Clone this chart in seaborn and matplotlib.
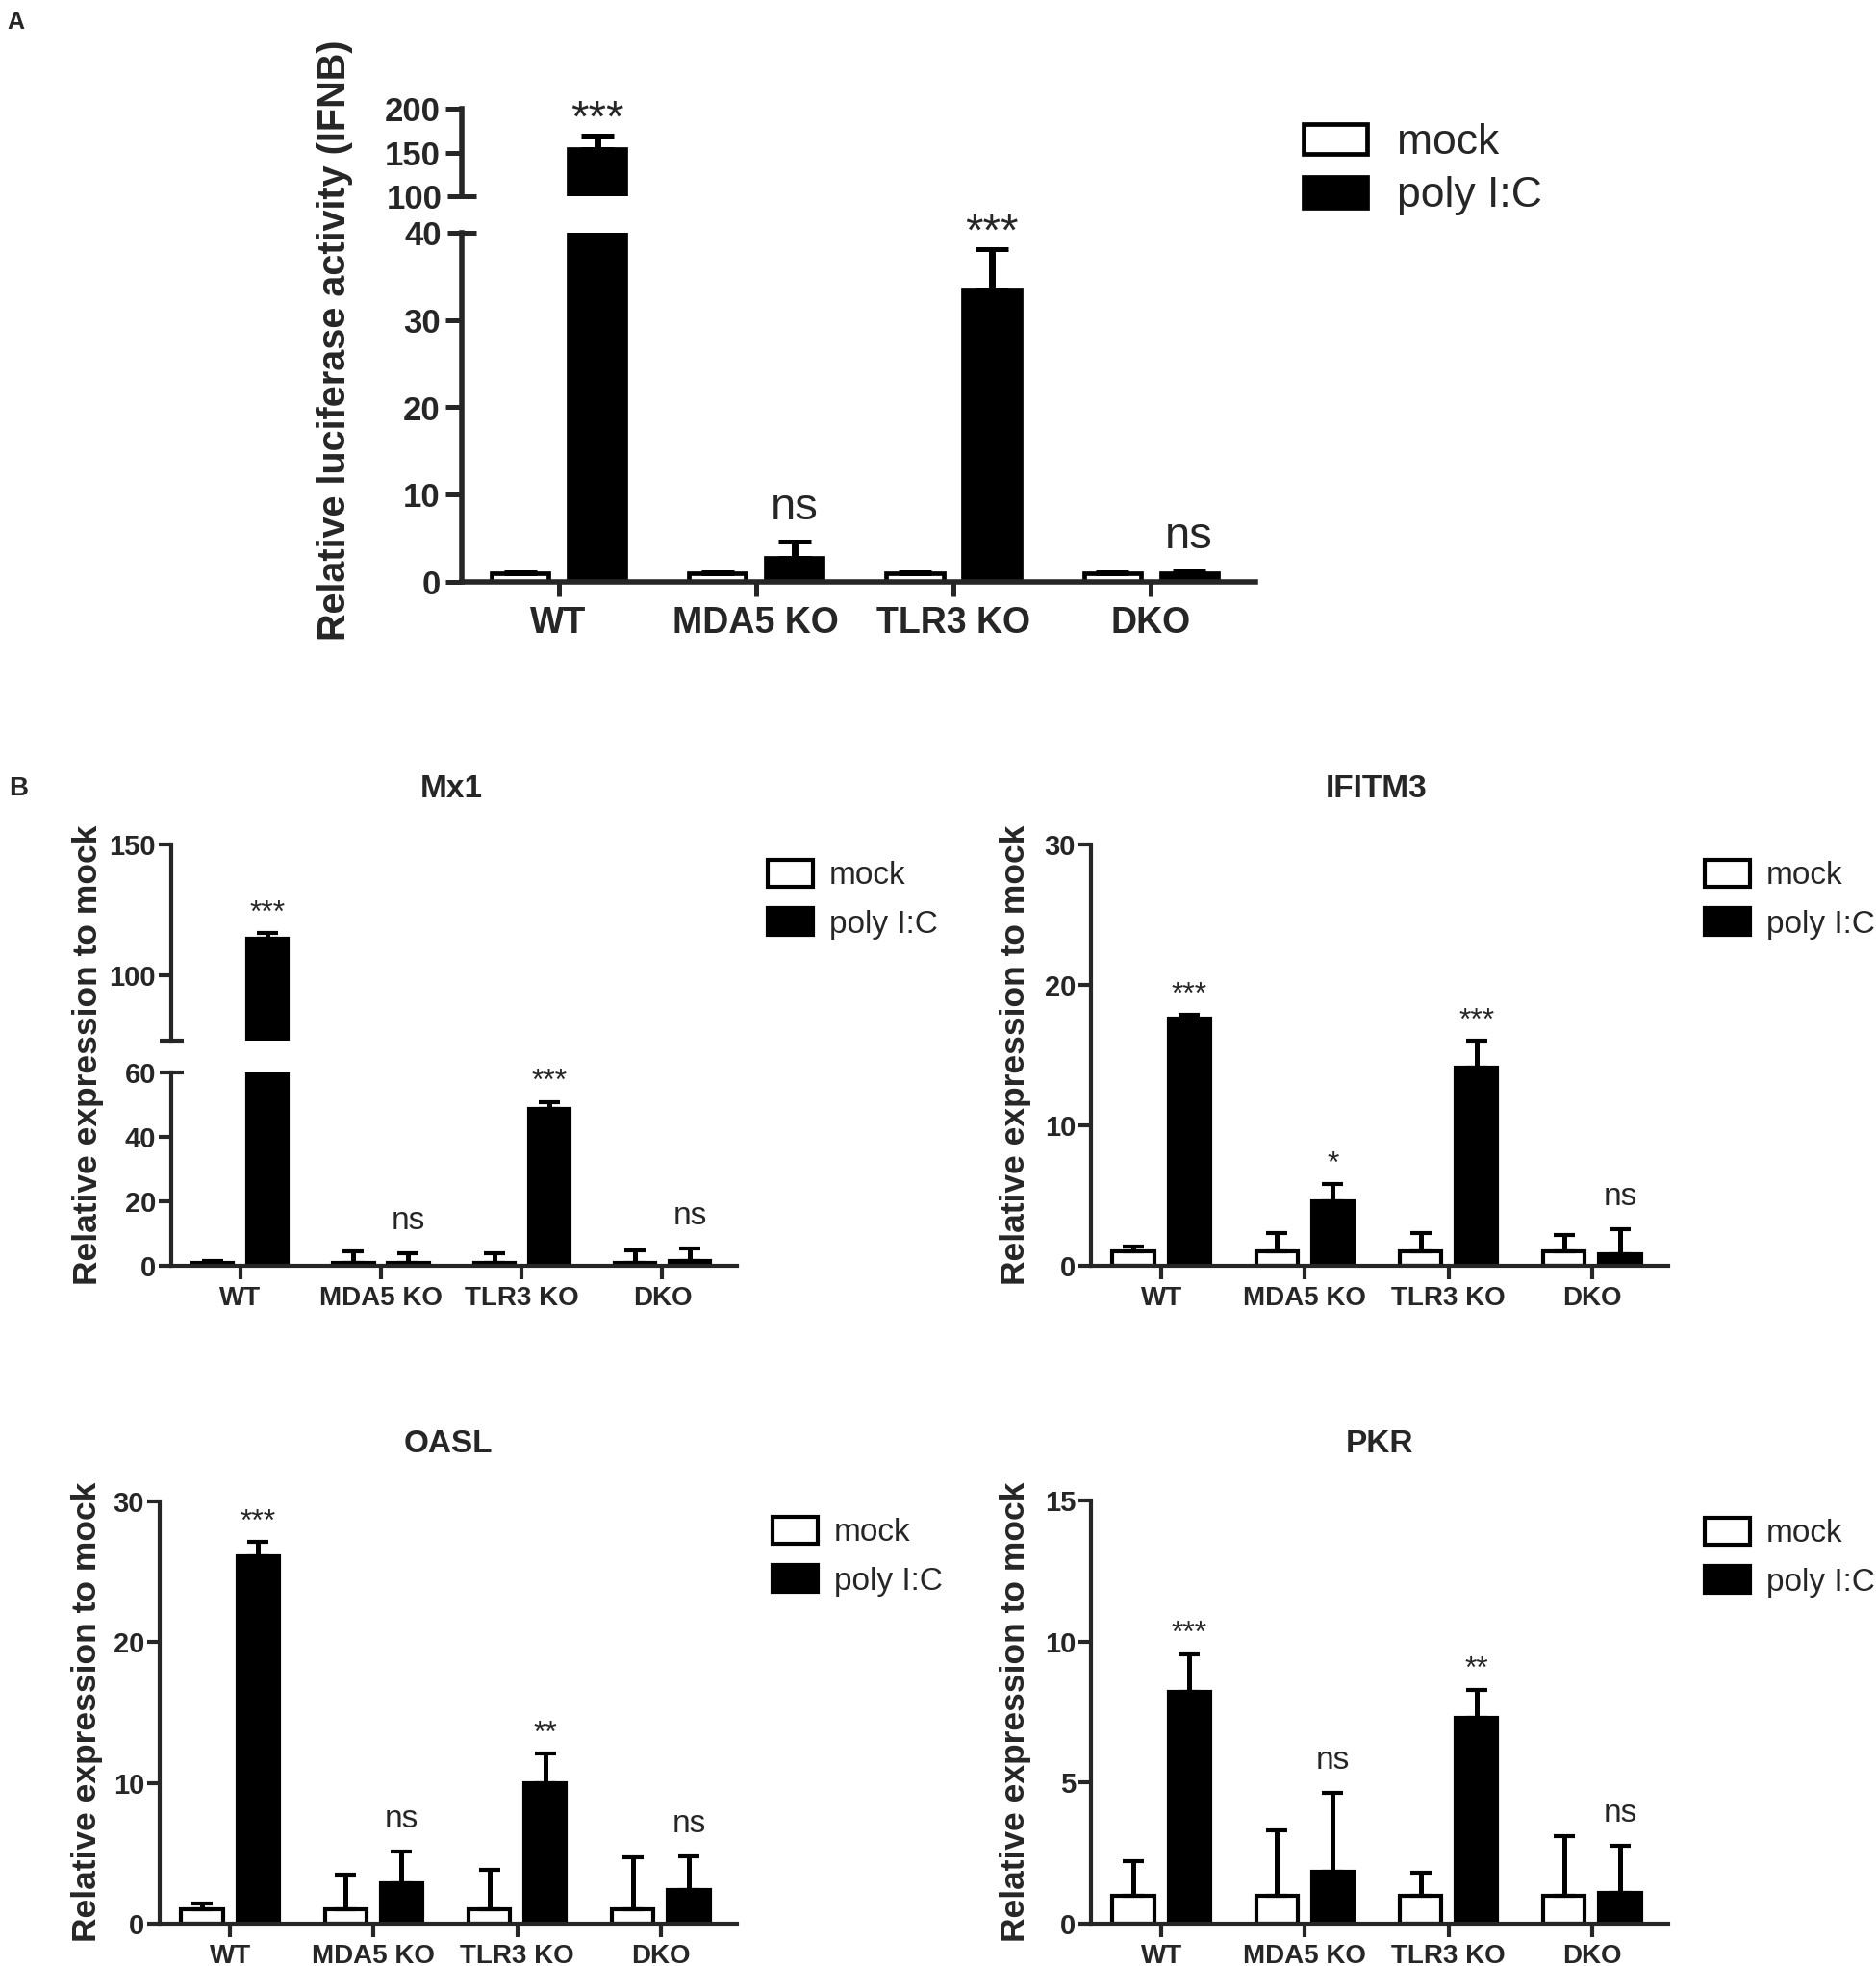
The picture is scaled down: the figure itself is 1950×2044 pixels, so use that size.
import numpy as np
import pandas as pd
import matplotlib
matplotlib.use("Agg")
import matplotlib.pyplot as plt
from matplotlib.patches import Patch
from matplotlib import font_manager
import seaborn as sns

# ---------------------------------------------------------------- data
GROUPS = ["WT", "MDA5 KO", "TLR3 KO", "DKO"]
TREATMENTS = ["mock", "poly I:C"]

# A: relative luciferase activity (IFNB)
IFNB_MOCK = [1.0, 1.0, 1.0, 1.0]
IFNB_MOCK_ERR = [0.15, 0.1, 0.1, 0.1]
IFNB_POLY = [154.0, 2.8, 33.5, 1.0]
IFNB_POLY_ERR = [15.0, 1.8, 4.6, 0.2]
IFNB_SIG = ["***", "ns", "***", "ns"]

# B: relative expression to mock
MX1_MOCK = [1.0, 1.0, 1.0, 1.0]
MX1_MOCK_ERR = [0.4, 3.4, 2.8, 3.9]
MX1_POLY = [114.0, 1.0, 48.7, 1.5]
MX1_POLY_ERR = [2.0, 2.8, 2.1, 3.8]
MX1_SIG = ["***", "ns", "***", "ns"]

IFITM3_MOCK = [1.0, 1.0, 1.0, 1.0]
IFITM3_MOCK_ERR = [0.4, 1.3, 1.3, 1.2]
IFITM3_POLY = [17.6, 4.6, 14.1, 0.8]
IFITM3_POLY_ERR = [0.25, 1.2, 1.9, 1.8]
IFITM3_SIG = ["***", "*", "***", "ns"]

OASL_MOCK = [1.05, 1.0, 1.0, 1.0]
OASL_MOCK_ERR = [0.4, 2.5, 2.8, 3.7]
OASL_POLY = [26.1, 2.9, 10.0, 2.4]
OASL_POLY_ERR = [1.0, 2.2, 2.1, 2.4]
OASL_SIG = ["***", "ns", "**", "ns"]

PKR_MOCK = [1.0, 1.0, 1.0, 1.0]
PKR_MOCK_ERR = [1.2, 2.3, 0.8, 2.1]
PKR_POLY = [8.2, 1.85, 7.3, 1.1]
PKR_POLY_ERR = [1.35, 2.8, 1.0, 1.65]
PKR_SIG = ["***", "ns", "**", "ns"]

PALETTE = {"mock": "white", "poly I:C": "black"}

# ---------------------------------------------------------------- style
sns.set_theme(style="ticks")
plt.rcParams["font.family"] = ["Liberation Sans", "DejaVu Sans"]
_installed = {f.name for f in font_manager.fontManager.ttflist}
if "Liberation Sans Narrow" in _installed:
    NARROW, NARROW_SIZE = ["Liberation Sans Narrow", "Liberation Sans"], 23
else:
    NARROW, NARROW_SIZE = ["Liberation Sans", "DejaVu Sans"], 21

W, H = 1950, 2044
fig = plt.figure(figsize=(W / 100, H / 100), dpi=100)


def px_rect(left, top, right, bottom):
    return [left / W, 1 - bottom / H, (right - left) / W, (bottom - top) / H]


def make_frame(mock, mock_err, poly, poly_err):
    rows = []
    for g, m, me, p, pe in zip(GROUPS, mock, mock_err, poly, poly_err):
        rows.append({"group": g, "treatment": "mock", "value": m, "err": me})
        rows.append({"group": g, "treatment": "poly I:C", "value": p, "err": pe})
    return pd.DataFrame(rows)


def draw_bars(ax, df, sz):
    sns.barplot(data=df, x="group", y="value", hue="treatment",
                order=GROUPS, hue_order=TREATMENTS, palette=PALETTE,
                saturation=1, edgecolor="black", linewidth=sz["bar_lw"],
                width=0.78, gap=0.26, errorbar=None, legend=False, ax=ax)
    bars = list(ax.containers)
    for cont, trt in zip(bars, TREATMENTS):
        errs = df[df["treatment"] == trt].set_index("group").loc[GROUPS, "err"].values
        xs = [b.get_x() + b.get_width() / 2 for b in cont]
        ys = [b.get_height() for b in cont]
        ax.errorbar(xs, ys, yerr=[np.zeros(len(errs)), errs], fmt="none",
                    ecolor="black", elinewidth=sz["elw"], capsize=sz["cap"],
                    capthick=sz["capthick"], zorder=1)
    ax.set_xlim(-0.49, 3.53)
    return bars


def style_axis(ax, sz, bottom=True):
    for s in ["top", "right"]:
        ax.spines[s].set_visible(False)
    ax.spines["left"].set_linewidth(sz["spine"])
    ax.spines["bottom"].set_linewidth(sz["spine"])
    ax.set_xlabel("")
    ax.set_ylabel("")
    ax.tick_params(axis="y", which="major", direction="out", length=sz["ytick_len"],
                   width=sz["tick_w"], pad=sz["ypad"])
    ax.tick_params(axis="y", which="minor", direction="inout", length=sz["break_len"],
                   width=sz["tick_w"], pad=sz["ypad"])
    if bottom:
        ax.tick_params(axis="x", direction="out", length=sz["xtick_len"],
                       width=sz["tick_w"], pad=sz["xpad"])
        ax.set_xticks(range(len(GROUPS)), labels=GROUPS, fontsize=sz["xlab"],
                      fontweight="bold")
    else:
        ax.spines["bottom"].set_visible(False)
        ax.set_xticks([])


def set_yticks(ax, sz, major, labels, minor=None, minor_labels=None):
    ax.set_yticks(major, labels=labels, fontsize=sz["ylab"], fontweight="bold",
                  family=sz["yfam"])
    if minor is not None:
        ax.set_yticks(minor, labels=minor_labels, minor=True, fontsize=sz["ylab"],
                      fontweight="bold", family=sz["yfam"])


def annotate(bars, axes, poly, poly_err, sig, sz):
    # axes: list from bottom to top
    for i, s in enumerate(sig):
        top = poly[i] + poly_err[i]
        ax = axes[0]
        for a in axes:
            lo, hi = a.get_ylim()
            if lo <= top <= hi:
                ax = a
        b = bars[1][i]
        x = b.get_x() + b.get_width() / 2
        off = sz["ns_off"] if s == "ns" else sz["star_off"]
        fs = sz["ns_fs"] if s == "ns" else sz["star_fs"]
        ax.annotate(s, xy=(x, top), xytext=(0, off), textcoords="offset points",
                    ha="center", va="baseline", fontsize=fs, annotation_clip=False)


def legend(sz, x, y):
    handles = [Patch(facecolor=PALETTE[t], edgecolor="black", linewidth=sz["bar_lw"])
               for t in TREATMENTS]
    fig.legend(handles, TREATMENTS, loc="upper left",
               bbox_to_anchor=(x / W, 1 - y / H), frameon=False,
               fontsize=sz["leg_fs"], handlelength=sz["hl"], handleheight=sz["hh"],
               handletextpad=sz["htp"], labelspacing=sz["ls"],
               borderpad=0, borderaxespad=0)


SIZE_A = dict(bar_lw=3.4, elw=5, cap=12, capthick=3.6, spine=4, tick_w=3.6,
              ytick_len=12, break_len=22, xtick_len=11, ypad=4, xpad=7,
              xlab=27, ylab=25, yfam=["Liberation Sans", "DejaVu Sans"],
              ns_off=17, star_off=3, ns_fs=34, star_fs=34,
              leg_fs=32, hl=1.49, hh=0.72, htp=0.7, ls=0.32)
SIZE_B = dict(bar_lw=3.0, elw=3.6, cap=8, capthick=3, spine=3, tick_w=3,
              ytick_len=9.5, break_len=18, xtick_len=10, ypad=2, xpad=5,
              xlab=20, ylab=NARROW_SIZE, yfam=NARROW,
              ns_off=18, star_off=9, ns_fs=24, star_fs=23,
              leg_fs=24, hl=1.41, hh=0.9, htp=0.51, ls=0.54)

# ---------------------------------------------------------------- panel A
df_a = make_frame(IFNB_MOCK, IFNB_MOCK_ERR, IFNB_POLY, IFNB_POLY_ERR)
ax_a_lo = fig.add_axes(px_rect(480, 242, 1305, 605))
ax_a_hi = fig.add_axes(px_rect(480, 113, 1305, 204))
bars_a = draw_bars(ax_a_lo, df_a, SIZE_A)
draw_bars(ax_a_hi, df_a, SIZE_A)
ax_a_lo.set_ylim(0, 40)
ax_a_hi.set_ylim(100, 200)
style_axis(ax_a_lo, SIZE_A)
style_axis(ax_a_hi, SIZE_A, bottom=False)
set_yticks(ax_a_lo, SIZE_A, [0, 10, 20, 30], ["0", "10", "20", "30"], [40], ["40"])
set_yticks(ax_a_hi, SIZE_A, [150, 200], ["150", "200"], [100], ["100"])
annotate(bars_a, [ax_a_lo, ax_a_hi], IFNB_POLY, IFNB_POLY_ERR, IFNB_SIG, SIZE_A)
fig.text(348 / W, 1 - 354 / H, "Relative luciferase activity (IFNB)", rotation=90,
         ha="center", va="center", fontsize=28.5, fontweight="bold")
legend(SIZE_A, 1355, 128)
fig.text(16 / W, 1 - 23 / H, "A", ha="center", va="center", fontsize=18,
         fontweight="bold")

# ---------------------------------------------------------------- panel B
fig.text(19 / W, 1 - 820 / H, "B", ha="center", va="center", fontsize=20,
         fontweight="bold")

# Mx1 (broken axis)
df_mx1 = make_frame(MX1_MOCK, MX1_MOCK_ERR, MX1_POLY, MX1_POLY_ERR)
ax_m_lo = fig.add_axes(px_rect(178, 1115, 766, 1316))
ax_m_hi = fig.add_axes(px_rect(178, 878, 766, 1082))
bars_m = draw_bars(ax_m_lo, df_mx1, SIZE_B)
draw_bars(ax_m_hi, df_mx1, SIZE_B)
ax_m_lo.set_ylim(0, 60)
ax_m_hi.set_ylim(75, 150)
style_axis(ax_m_lo, SIZE_B)
style_axis(ax_m_hi, SIZE_B, bottom=False)
set_yticks(ax_m_lo, SIZE_B, [0, 20, 40], ["0", "20", "40"], [60], ["60"])
set_yticks(ax_m_hi, SIZE_B, [100, 150], ["100", "150"], [75], [""])
annotate(bars_m, [ax_m_lo, ax_m_hi], MX1_POLY, MX1_POLY_ERR, MX1_SIG, SIZE_B)

panels = [
    ("IFITM3", (1134, 878, 1734, 1316), IFITM3_MOCK, IFITM3_MOCK_ERR, IFITM3_POLY,
     IFITM3_POLY_ERR, IFITM3_SIG, 30, [0, 10, 20, 30]),
    ("OASL", (166, 1561, 766, 2000), OASL_MOCK, OASL_MOCK_ERR, OASL_POLY,
     OASL_POLY_ERR, OASL_SIG, 30, [0, 10, 20, 30]),
    ("PKR", (1134, 1560, 1734, 2000), PKR_MOCK, PKR_MOCK_ERR, PKR_POLY,
     PKR_POLY_ERR, PKR_SIG, 15, [0, 5, 10, 15]),
]
for name, box, m, me, p, pe, sig, ymax, ticks in panels:
    ax = fig.add_axes(px_rect(*box))
    df = make_frame(m, me, p, pe)
    bars = draw_bars(ax, df, SIZE_B)
    ax.set_ylim(0, ymax)
    style_axis(ax, SIZE_B)
    set_yticks(ax, SIZE_B, ticks, [str(t) for t in ticks])
    annotate(bars, [ax], p, pe, sig, SIZE_B)

# titles, y labels, legends for panel B
titles = [("Mx1", 469, 829), ("IFITM3", 1431, 829), ("OASL", 466, 1510), ("PKR", 1434, 1510)]
for t, x, y in titles:
    fig.text(x / W, 1 - y / H, t, ha="center", va="baseline", fontsize=24,
             fontweight="bold")
for x, y in [(92, 1097), (1056, 1097), (91, 1780), (1056, 1780)]:
    fig.text(x / W, 1 - y / H, "Relative expression to mock", rotation=90,
             ha="center", va="center", fontsize=25.5, fontweight="bold")
for x, y in [(798, 894), (1772, 894), (803, 1577), (1772, 1578)]:
    legend(SIZE_B, x, y)

fig.savefig("out.png", dpi=100)
